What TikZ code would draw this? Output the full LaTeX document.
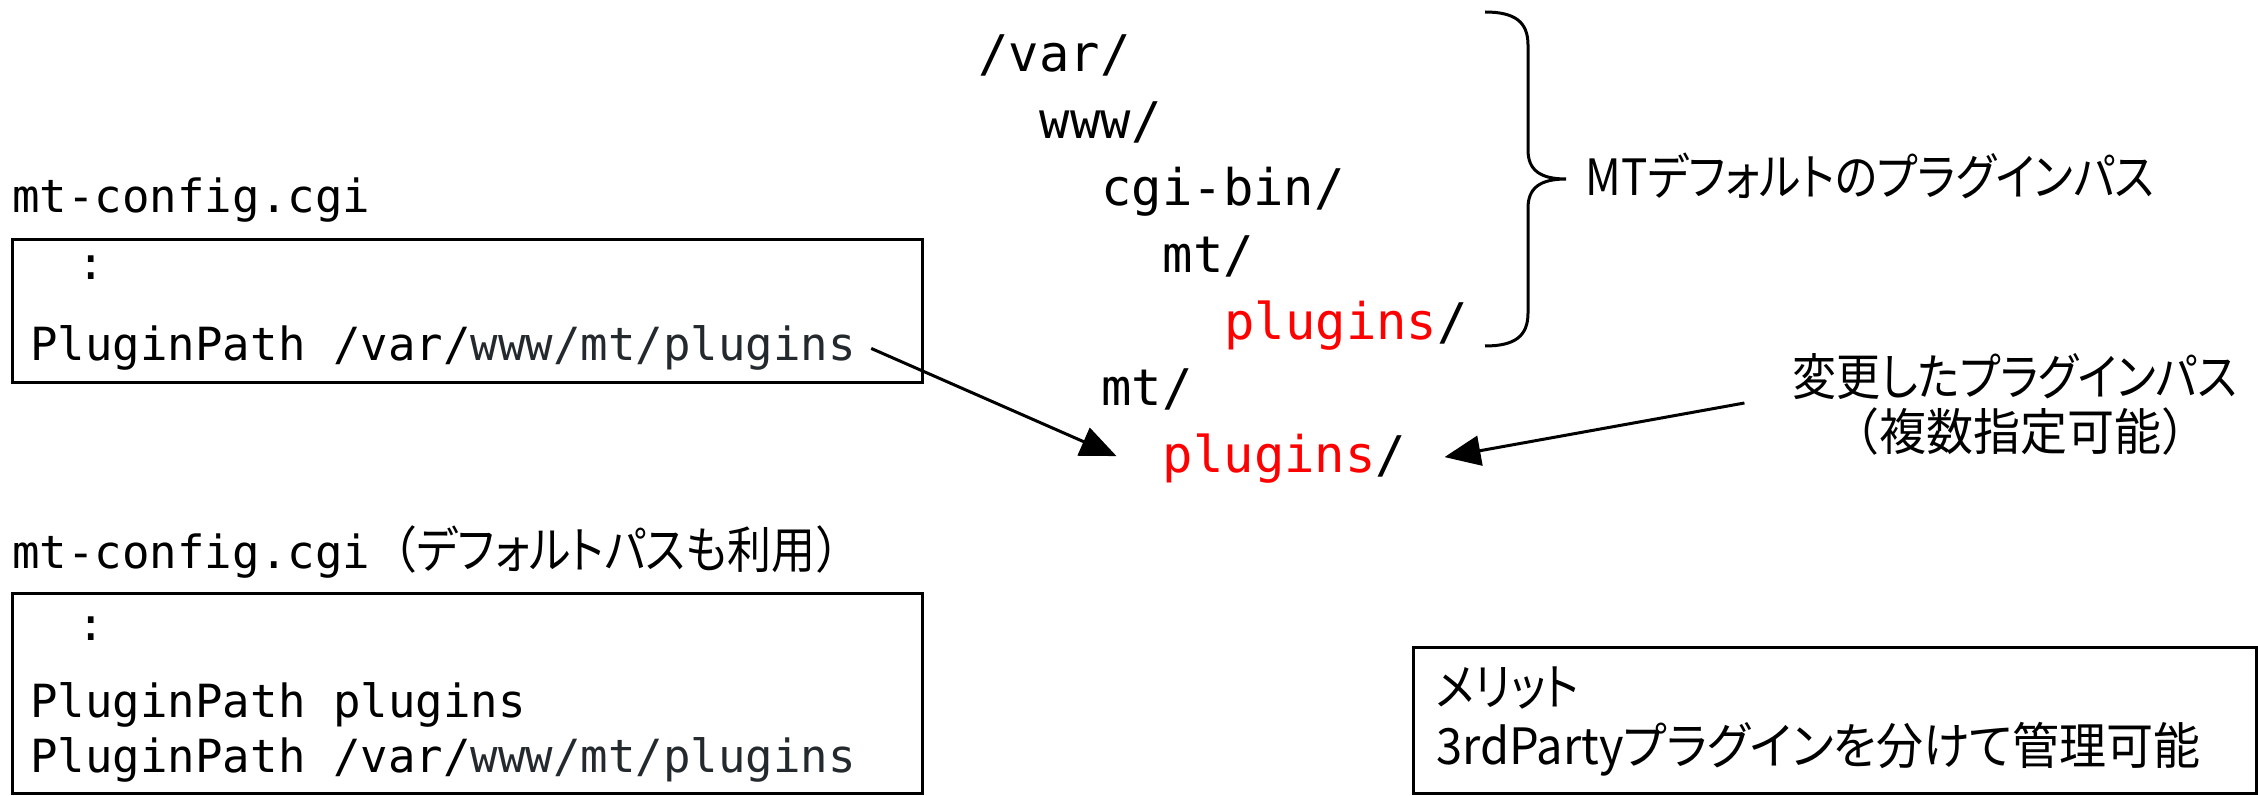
\documentclass[tikz,border=0pt]{standalone}
\usepackage{fontspec}
\usetikzlibrary{arrows.meta,calc}
\newfontfamily\monofnt{DejaVu Sans Mono}
\newfontfamily\jpA[RawFeature=+palt, FakeStretch=0.88]{Noto Sans CJK JP}
\newfontfamily\jpB[RawFeature=+palt, FakeStretch=0.94]{Noto Sans CJK JP}
\newfontfamily\jpC[FakeStretch=0.94]{Noto Sans CJK JP}
\definecolor{pathgray}{HTML}{24292E}
\begin{document}
\begin{tikzpicture}[x=0.5pt,y=-0.5pt,
  codetxt/.style={font=\monofnt\fontsize{22.85}{27}\selectfont, inner sep=0pt, anchor=base west},
  treetxt/.style={font=\monofnt\fontsize{25.25}{30}\selectfont, inner sep=0pt, anchor=base west},
  jptxt/.style={font=\jpA\fontsize{25}{30}\selectfont, inner sep=0pt},
  frame/.style={draw, line width=1.5pt, rectangle, inner sep=0pt},
  arr/.style={-{Triangle[length=18pt,width=15pt]}, line width=1.5pt},
  bracestyle/.style={line width=1.5pt}]
\useasboundingbox (0,0) rectangle (2258,796);

% left upper
\node[codetxt] (lbl1) at (12,213) {mt-config.cgi};
\node[frame, minimum width=455pt, minimum height=71.5pt] (box1) at (467,311.5) {};
\node[codetxt] (dots1) at (77,280) {:};
\node[codetxt] (pp1) at (30,361) {PluginPath /var/\textcolor{pathgray}{www/mt/plugins}};

% left lower
\node[codetxt] (lbl2) at (12,568) {mt-config.cgi{\fontsize{25}{30}\jpC（\jpA デフォルトパスも利用\jpC ）}};
\node[frame, minimum width=455pt, minimum height=100pt] (box2) at (467,693) {};
\node[codetxt] (dots2) at (77,640) {:};
\node[codetxt] (pp2) at (30,717) {PluginPath plugins};
\node[codetxt] (pp3) at (30,772) {PluginPath /var/\textcolor{pathgray}{www/mt/plugins}};

% tree
\node[treetxt] (t1) at (978,72) {/var/};
\node[treetxt] (t2) at (1039.5,139) {www/};
\node[treetxt] (t3) at (1101,205.5) {cgi-bin/};
\node[treetxt] (t4) at (1162.5,272.5) {mt/};
\node[treetxt] (t5) at (1224,339.5) {\textcolor{red}{plugins}/};
\node[treetxt] (t6) at (1101,406) {mt/};
\node[treetxt] (t7) at (1162.5,473) {\textcolor{red}{plugins}/};

% brace
\draw[bracestyle] (1485,12) .. controls (1515,12) and (1528,22) .. (1528,45)
  -- (1528,150) .. controls (1528,170) and (1540,179) .. (1566,179)
  .. controls (1540,179) and (1528,188) .. (1528,208)
  -- (1528,313) .. controls (1528,336) and (1515,346) .. (1485,346);
\node[jptxt, anchor=west] (deflbl) at (1585,176) {MTデフォルトのプラグインパス};

% changed path label
\node[jptxt] (chg1) at (2015,377) {変更したプラグインパス};
\node[jptxt, font=\jpC\fontsize{25}{30}\selectfont] (chg2) at (2020,432) {（複数指定可能）};

% merit box
\node[frame, minimum width=421.5pt, minimum height=73pt] (box3) at (1834.5,720) {};
\node[jptxt, anchor=west] (m1) at (1436,688) {メリット};
\node[jptxt, font=\jpB\fontsize{25}{30}\selectfont, anchor=west] (m2) at (1436,749) {3rdPartyプラグインを分けて管理可能};

% arrows
\draw[arr] ($(pp1.east)+(15,0)$) -- ($(t7.west)+(-46,-3)$);
\draw[arr] ($(chg1.west)+(-48,26)$) -- ($(t7.east)+(38,-2)$);
\end{tikzpicture}
\end{document}
